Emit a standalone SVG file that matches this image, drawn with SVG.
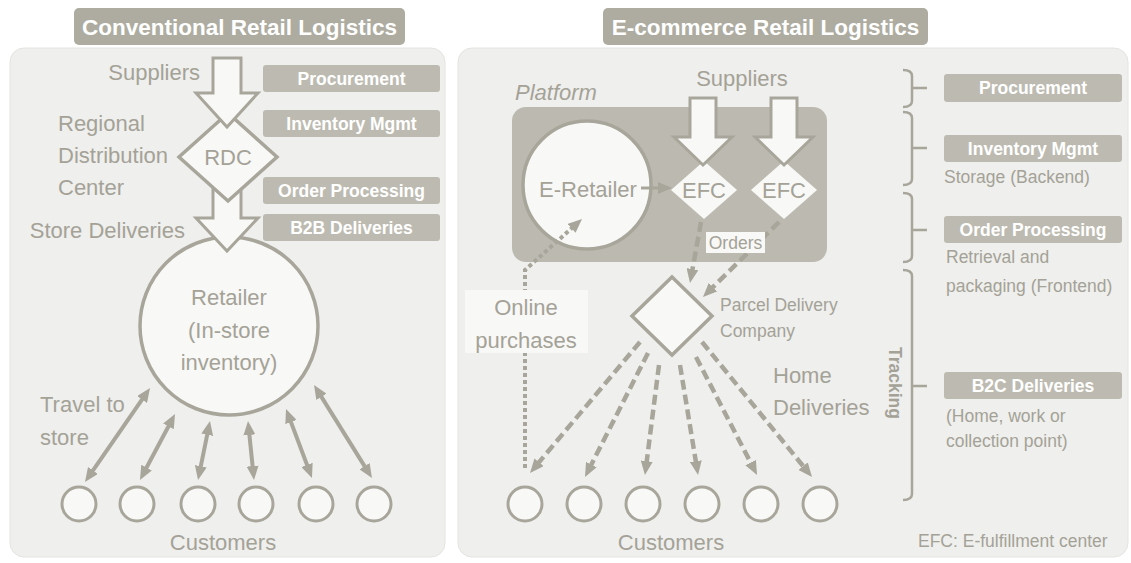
<svg xmlns="http://www.w3.org/2000/svg" width="1131" height="563" viewBox="0 0 1131 563">
  <style>
    .panel { fill: #efefed; stroke: #e4e4e1; stroke-width: 1; }
    .tbar { fill: #aeaca0; }
    .ttext { font-family: "Liberation Sans", Arial, sans-serif; font-weight: bold; font-size: 22.5px; fill: #ffffff; text-anchor: middle; }
    .lbox { fill: #bdbbb1; }
    .ltext { font-family: "Liberation Sans", Arial, sans-serif; font-weight: bold; font-size: 17.5px; fill: #ffffff; text-anchor: middle; }
    .txt { font-family: "Liberation Sans", Arial, sans-serif; font-size: 22px; fill: #a4a297; }
    .small { font-family: "Liberation Sans", Arial, sans-serif; font-size: 17.5px; fill: #a4a297; }
    .shape { fill: #f8f8f6; stroke: #a8a69b; stroke-width: 3.5; stroke-linejoin: miter; }
    .block { fill: #f8f8f6; stroke: #a8a69b; stroke-width: 3; stroke-linejoin: miter; }
    .cust { fill: #f8f8f6; stroke: #a8a69b; stroke-width: 3; }
    .solid { fill: none; stroke: #a8a69b; stroke-width: 4; }
    .dash { fill: none; stroke: #a8a69b; stroke-width: 4.5; stroke-dasharray: 10 5; }
    .dot { fill: none; stroke: #a8a69b; stroke-width: 4; stroke-dasharray: 4 3; }
    .brace { fill: none; stroke: #a8a69b; stroke-width: 2.5; }
  </style>
  <defs>
    <marker id="head" markerUnits="userSpaceOnUse" markerWidth="14" markerHeight="12" refX="5" refY="6" orient="auto-start-reverse">
      <path d="M0,0 L14,6 L0,12 z" fill="#a8a69b"/>
    </marker>
  </defs>

  <rect width="1131" height="563" fill="#ffffff"/>

  <!-- Panels -->
  <rect class="panel" x="10" y="48" width="435" height="509" rx="14"/>
  <rect class="panel" x="458" y="48" width="670" height="509" rx="14"/>

  <!-- Titles -->
  <g id="title-conventional">
    <rect class="tbar" x="74" y="8" width="331" height="37" rx="5"/>
    <text class="ttext" x="239.5" y="35">Conventional Retail Logistics</text>
  </g>
  <g id="title-ecommerce">
    <rect class="tbar" x="603" y="8" width="325" height="37" rx="5"/>
    <text class="ttext" x="765.5" y="35">E-commerce Retail Logistics</text>
  </g>

  <!-- Left: process labels -->
  <g id="l-procurement"><rect class="lbox" x="263" y="65" width="177" height="27" rx="3"/><text class="ltext" x="351.5" y="85">Procurement</text></g>
  <g id="l-inventory"><rect class="lbox" x="263" y="110" width="177" height="27" rx="3"/><text class="ltext" x="351.5" y="130">Inventory Mgmt</text></g>
  <g id="l-order"><rect class="lbox" x="263" y="177" width="177" height="27" rx="3"/><text class="ltext" x="351.5" y="197">Order Processing</text></g>
  <g id="l-b2b"><rect class="lbox" x="263" y="214" width="177" height="27" rx="3"/><text class="ltext" x="351.5" y="234">B2B Deliveries</text></g>

  <!-- Left: flow -->
  <g id="l-suppliers"><text class="txt" x="200" y="80" text-anchor="end">Suppliers</text></g>
  <g id="l-rdc-label">
    <text class="txt" x="58" y="131">Regional</text>
    <text class="txt" x="58" y="163">Distribution</text>
    <text class="txt" x="58" y="195">Center</text>
  </g>
  <g id="l-store-deliveries"><text class="txt" x="185" y="238" text-anchor="end">Store Deliveries</text></g>

  <g id="l-retailer">
    <circle class="shape" cx="229" cy="326" r="89"/>
    <text class="txt" x="229" y="305" text-anchor="middle" font-size="23">Retailer</text>
    <text class="txt" x="229" y="338" text-anchor="middle" font-size="23">(In-store</text>
    <text class="txt" x="229" y="370" text-anchor="middle" font-size="23">inventory)</text>
  </g>

  <g id="l-arrow-store">
    <polygon class="block" points="213,185 241,185 241,218 258,218 227,251 196,218 213,218"/>
  </g>
  <g id="l-rdc">
    <polygon class="shape" points="228,113 277,157 228,201 179,157"/>
    <text class="txt" x="228" y="165" text-anchor="middle">RDC</text>
  </g>
  <g id="l-arrow-suppliers">
    <polygon class="block" points="213,58 241,58 241,93 258,93 227,127 196,93 213,93"/>
  </g>

  <g id="l-travel"><text class="txt" x="40" y="412">Travel to</text><text class="txt" x="40" y="445">store</text></g>

  <g id="l-customers">
    <circle class="cust" cx="79" cy="504" r="17"/>
    <circle class="cust" cx="137" cy="504" r="17"/>
    <circle class="cust" cx="198" cy="504" r="17"/>
    <circle class="cust" cx="256" cy="504" r="17"/>
    <circle class="cust" cx="316" cy="504" r="17"/>
    <circle class="cust" cx="374" cy="504" r="17"/>
    <text class="txt" x="223" y="550" text-anchor="middle">Customers</text>
  </g>

  <!-- Right: platform -->
  <g id="platform">
    <rect x="512" y="107" width="315" height="155" rx="14" fill="#bcbab0"/>
    <text class="txt" x="515" y="100" font-style="italic">Platform</text>
  </g>
  <g id="r-suppliers"><text class="txt" x="742" y="86" text-anchor="middle">Suppliers</text></g>

  <g id="r-eretailer">
    <circle class="shape" cx="587" cy="185" r="64"/>
    <text class="txt" x="588" y="197" text-anchor="middle" font-size="23">E-Retailer</text>
  </g>

  <g id="r-efc1">
    <polygon fill="#f8f8f6" points="704,161 737,190 704,219 671,190"/>
    <text class="txt" x="704" y="198" text-anchor="middle" font-size="20">EFC</text>
  </g>
  <g id="r-efc2">
    <polygon fill="#f8f8f6" points="784,161 817,190 784,219 751,190"/>
    <text class="txt" x="784" y="198" text-anchor="middle" font-size="20">EFC</text>
  </g>
  <g id="r-arrow-efc1"><polygon class="block" points="690,98 716,98 716,137 732,137 703,165 674,137 690,137"/></g>
  <g id="r-arrow-efc2"><polygon class="block" points="771,98 797,98 797,137 813,137 784,165 755,137 771,137"/></g>

  <g id="r-parcel">
    <polygon class="shape" points="672,277 712,316 672,355 632,316"/>
    <text class="small" x="720" y="311">Parcel Delivery</text>
    <text class="small" x="720" y="337">Company</text>
  </g>
  <g id="r-home"><text class="txt" x="773" y="383">Home</text><text class="txt" x="773" y="415">Deliveries</text></g>

  <!-- Connectors -->
  <g id="connectors">
    <!-- store visits, both directions -->
    <path class="solid" d="M144.9,395.4 L90.1,474.6" marker-start="url(#head)" marker-end="url(#head)"/>
    <path class="solid" d="M170.8,422 L144.2,472" marker-start="url(#head)" marker-end="url(#head)"/>
    <path class="solid" d="M208.2,429.8 L199.8,471.2" marker-start="url(#head)" marker-end="url(#head)"/>
    <path class="solid" d="M248.9,430 L253.1,471" marker-start="url(#head)" marker-end="url(#head)"/>
    <path class="solid" d="M289.2,417.4 L308.8,469.6" marker-start="url(#head)" marker-end="url(#head)"/>
    <path class="solid" d="M318.8,392.6 L367.2,470.4" marker-start="url(#head)" marker-end="url(#head)"/>

    <!-- e-retailer to EFC -->
    <path class="solid" style="stroke-width:3" d="M641,188 L663,188" marker-end="url(#head)"/>

    <!-- orders to parcel company -->
    <path class="dash" d="M701,222 L691.6,274.1" marker-end="url(#head)"/>
    <path class="dash" d="M779,222 L709.4,290.7" marker-end="url(#head)"/>

    <!-- home deliveries -->
    <path class="dash" d="M640,342 L535.8,466.1" marker-end="url(#head)"/>
    <path class="dash" d="M648,353 L589.1,469" marker-end="url(#head)"/>
    <path class="dash" d="M659,365 L646.1,466.1" marker-end="url(#head)"/>
    <path class="dash" d="M680,365 L696.6,466.1" marker-end="url(#head)"/>
    <path class="dash" d="M696,357 L752.9,467" marker-end="url(#head)"/>
    <path class="dash" d="M702,342 L806.3,470" marker-end="url(#head)"/>

    <!-- online purchases -->
    <path class="dot" d="M525,468 L525,270 L575.3,225" marker-end="url(#head)"/>
  </g>

  <g id="r-orders-label">
    <rect x="706" y="232" width="59" height="21" fill="#f8f8f6"/>
    <text class="small" x="735.5" y="249" text-anchor="middle" font-size="17">Orders</text>
  </g>
  <g id="r-online-label">
    <rect x="465" y="290" width="123" height="63" fill="#f8f8f6"/>
    <text class="txt" x="526" y="315" text-anchor="middle">Online</text>
    <text class="txt" x="526" y="348" text-anchor="middle">purchases</text>
  </g>

  <g id="r-customers">
    <circle class="cust" cx="525" cy="504" r="17"/>
    <circle class="cust" cx="584" cy="504" r="17"/>
    <circle class="cust" cx="643" cy="504" r="17"/>
    <circle class="cust" cx="702" cy="504" r="17"/>
    <circle class="cust" cx="761" cy="504" r="17"/>
    <circle class="cust" cx="820" cy="504" r="17"/>
    <text class="txt" x="671" y="550" text-anchor="middle">Customers</text>
  </g>

  <!-- Right: process braces -->
  <g id="braces">
    <path class="brace" d="M903,70 Q912,70 912,76 V101 Q912,107 903,107 M912,88 H927"/>
    <path class="brace" d="M903,112 Q912,112 912,118 V179 Q912,185 903,185 M912,148 H927"/>
    <path class="brace" d="M903,193 Q912,193 912,199 V256 Q912,262 903,262 M912,230 H927"/>
    <path class="brace" d="M903,270 Q912,270 912,276 V494 Q912,500 903,500 M912,386 H927"/>
  </g>
  <g id="tracking"><text class="small" transform="translate(889,383) rotate(90)" text-anchor="middle" font-weight="bold" font-size="17">Tracking</text></g>

  <g id="r-procurement"><rect class="lbox" x="944" y="74" width="178" height="28" rx="3"/><text class="ltext" x="1033" y="94">Procurement</text></g>
  <g id="r-inventory">
    <rect class="lbox" x="944" y="135" width="178" height="27" rx="3"/><text class="ltext" x="1033" y="155">Inventory Mgmt</text>
    <text class="small" x="944" y="183">Storage (Backend)</text>
  </g>
  <g id="r-order">
    <rect class="lbox" x="944" y="216" width="178" height="27" rx="3"/><text class="ltext" x="1033" y="236">Order Processing</text>
    <text class="small" x="946" y="263">Retrieval and</text>
    <text class="small" x="946" y="292">packaging (Frontend)</text>
  </g>
  <g id="r-b2c">
    <rect class="lbox" x="944" y="372" width="178" height="27" rx="3"/><text class="ltext" x="1033" y="392">B2C Deliveries</text>
    <text class="small" x="946" y="422">(Home, work or</text>
    <text class="small" x="946" y="447">collection point)</text>
  </g>

  <g id="legend"><text class="small" x="918" y="547">EFC: E-fulfillment center</text></g>
</svg>
